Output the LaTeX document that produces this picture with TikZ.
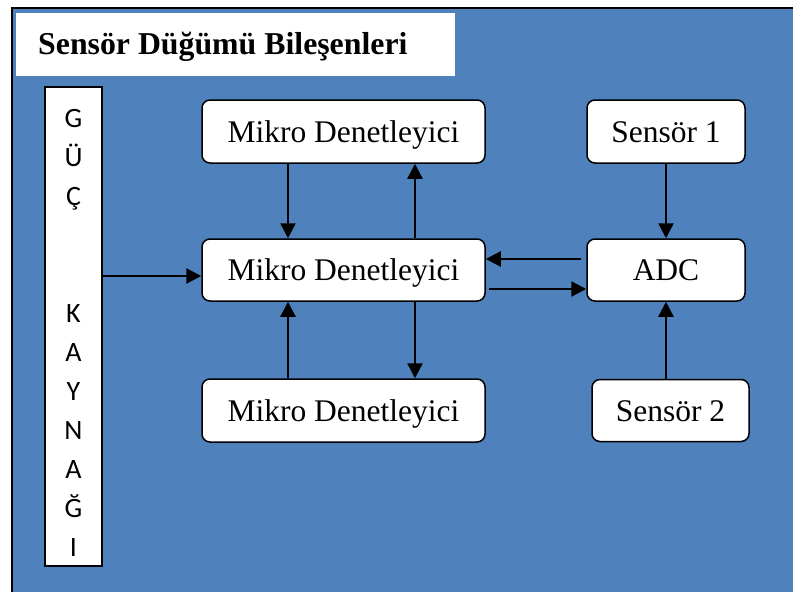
\documentclass[tikz,border=0pt]{standalone}
\usepackage{fontspec}
\setmainfont{Liberation Serif}
\newfontfamily\gkfont{Carlito}
\usetikzlibrary{arrows.meta,calc}
\definecolor{bgblue}{RGB}{79,129,189}
\tikzset{
  mbox/.style={draw=black, line width=1.5pt, fill=white, rounded corners=8pt,
    font=\fontsize{31.5}{36}\selectfont, text height=21pt, text depth=0pt, inner sep=0pt},
  arr/.style={line width=2.4pt, -{Triangle[length=15pt,width=15pt]}},
  gkletter/.style={font=\gkfont\fontsize{28}{32}\selectfont, anchor=base, inner sep=0pt}
}
\begin{document}
\begin{tikzpicture}[x=1pt,y=-1pt]
\useasboundingbox (0,0) rectangle (793,592);
\clip (0,0) rectangle (793,592);
% background frame
\fill[white] (0,0) rectangle (793,592);
\draw[line width=2.5pt, fill=bgblue] (12,8) rectangle (820,620);
% title
\fill[white] (16,13) rectangle (455,76);
\node[anchor=base west, inner sep=0pt, font=\bfseries\fontsize{31.8}{36}\selectfont] (title) at (38,54) {Sensör Düğümü Bileşenleri};
% power supply
\node[draw=black, line width=1.5pt, fill=white, minimum width=57pt, minimum height=479pt, inner sep=0pt] (gk) at (73.5,326.5) {};
\foreach \l/\y [count=\i] in {G/127,Ü/166,Ç/205,K/322,A/361,Y/400,N/439,A/478,Ğ/517,I/556}
  \node[gkletter] (gl\i) at (73.5,\y) {\l};
% micro controllers
\node[mbox, minimum width=283pt, minimum height=63pt] (top) at (343.5,131.5) {Mikro Denetleyici};
\node[mbox, minimum width=283pt, minimum height=62pt] (mid) at (343.5,270) {Mikro Denetleyici};
\node[mbox, minimum width=283pt, minimum height=63pt] (bot) at (343.5,410.5) {Mikro Denetleyici};
% sensors
\node[mbox, minimum width=158pt, minimum height=63pt] (s1) at (666,131.5) {Sensör 1};
\node[mbox, minimum width=158pt, minimum height=62pt] (adc) at (666,270) {ADC};
\node[mbox, minimum width=157pt, minimum height=62pt] (s2) at (670.5,410.5) {Sensör 2};
% connectors
\draw[arr] ($(gk.east |- mid.west)+(0,6)$) -- ($(mid.west)+(0,6)$);
\draw[arr] ($(top.south)+(-55.5,0)$) -- ($(mid.north)+(-55.5,0)$);
\draw[arr] ($(mid.north)+(71.5,0)$) -- ($(top.south)+(71.5,0)$);
\draw[arr] ($(bot.north)+(-55.5,0)$) -- ($(mid.south)+(-55.5,0)$);
\draw[arr] ($(mid.south)+(71.5,0)$) -- ($(bot.north)+(71.5,0)$);
\draw[arr] (s1.south) -- (adc.north);
\draw[arr] (adc.south |- s2.north) -- (adc.south);
\draw[arr] ($(adc.west)+(-5,-11)$) -- ($(mid.east)+(0,-11)$);
\draw[arr] ($(mid.east)+(3,19)$) -- ($(adc.west)+(0,19)$);
\end{tikzpicture}
\end{document}
